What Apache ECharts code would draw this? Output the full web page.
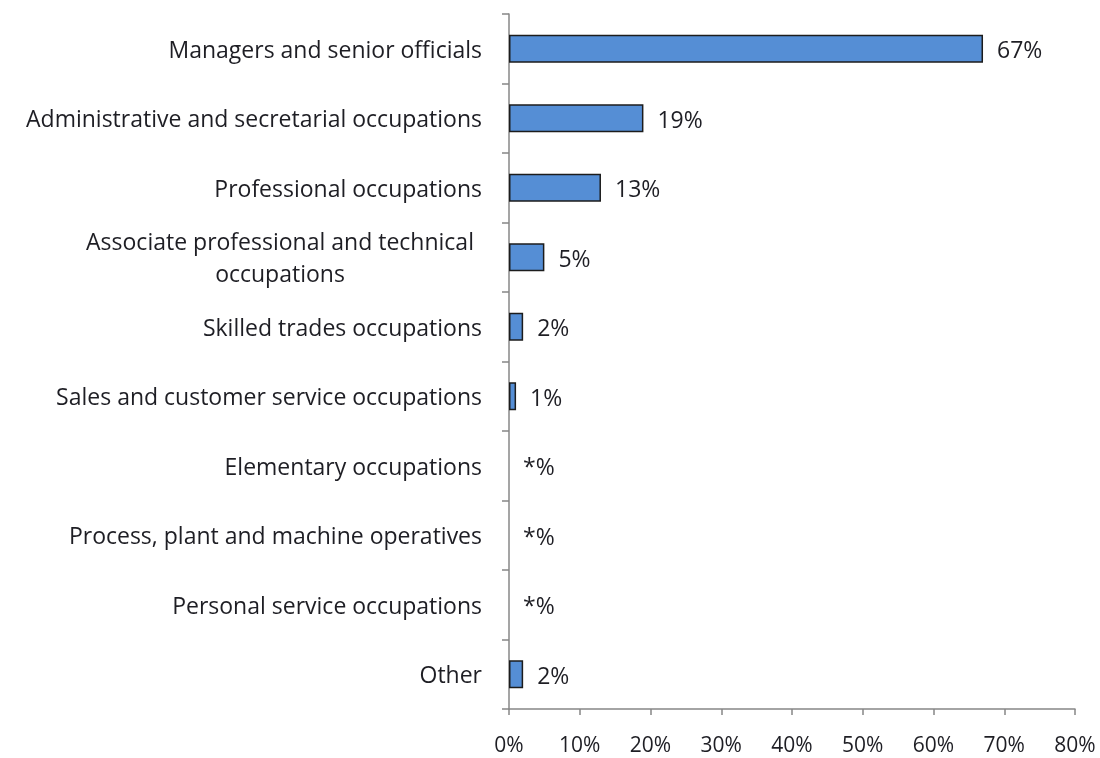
<!DOCTYPE html>
<html>
<head>
<meta charset="utf-8">
<script src="https://cdn.jsdelivr.net/npm/echarts@6/dist/echarts.min.js"></script>
<style>
  html, body { margin: 0; padding: 0; background: #ffffff; }
  #chart { width: 1100px; height: 758px; }
</style>
</head>
<body>
<div id="chart"></div>
<script>
// Occupation groups, top to bottom
const categories = [
  'Managers and senior officials',
  'Administrative and secretarial occupations',
  'Professional occupations',
  'Associate professional and technical\noccupations',
  'Skilled trades occupations',
  'Sales and customer service occupations',
  'Elementary occupations',
  'Process, plant and machine operatives',
  'Personal service occupations',
  'Other'
];
// Share of respondents (%)
const values = [67, 19, 13, 5, 2, 1, 0, 0, 0, 2];
// Text shown beside each bar ("*" marks a value below 0.5%)
const valueLabels = ['67%', '19%', '13%', '5%', '2%', '1%', '*%', '*%', '*%', '2%'];
// Horizontal axis ticks
const axisMin = 0, axisMax = 80, axisStep = 10;

const FONT = '"Open Sans", "Noto Sans", sans-serif';
const TEXT = '#1e1e24';

const chart = echarts.init(document.getElementById('chart'));
chart.setOption({
  animation: false,
  backgroundColor: '#ffffff',
  grid: { left: 509, right: 25, top: 14, bottom: 49, containLabel: false },
  xAxis: {
    type: 'value',
    min: axisMin, max: axisMax, interval: axisStep,
    axisLine: { show: true, lineStyle: { color: '#878787', width: 1.5 } },
    axisTick: { show: true, length: 6, lineStyle: { color: '#878787', width: 1.5 } },
    splitLine: { show: false },
    axisLabel: {
      formatter: '{value}%', color: TEXT, fontFamily: FONT, fontSize: 21, margin: 27
    }
  },
  yAxis: {
    type: 'category',
    inverse: true,
    data: categories,
    axisLine: { show: true, lineStyle: { color: '#878787', width: 1.5 } },
    axisTick: { show: true, length: 7, lineStyle: { color: '#878787', width: 1.5 } },
    axisLabel: {
      color: TEXT, fontFamily: FONT, fontSize: 23, margin: 27,
      padding: [5, 0, 0, 0],
      formatter: function (v) {
        return v.indexOf('\n') >= 0 ? '{c|' + v + '}' : v;
      },
      rich: {
        c: { width: 404, align: 'center', lineHeight: 32, fontFamily: FONT, fontSize: 23, color: TEXT }
      }
    }
  },
  series: [{
    type: 'bar',
    // zero-valued groups carry no visible bar, only their "*%" label
    data: values.map(function (v) {
      return v > 0 ? v : { value: v, itemStyle: { borderWidth: 0 } };
    }),
    barWidth: 28,
    itemStyle: { color: '#558ed5', borderColor: '#1c1c1c', borderWidth: 1.5 },
    label: {
      show: true, position: 'right', distance: 14,
      offset: [0, 3],
      color: TEXT, fontFamily: FONT, fontSize: 23,
      formatter: function (p) { return valueLabels[p.dataIndex]; }
    }
  }]
});
</script>
</body>
</html>
